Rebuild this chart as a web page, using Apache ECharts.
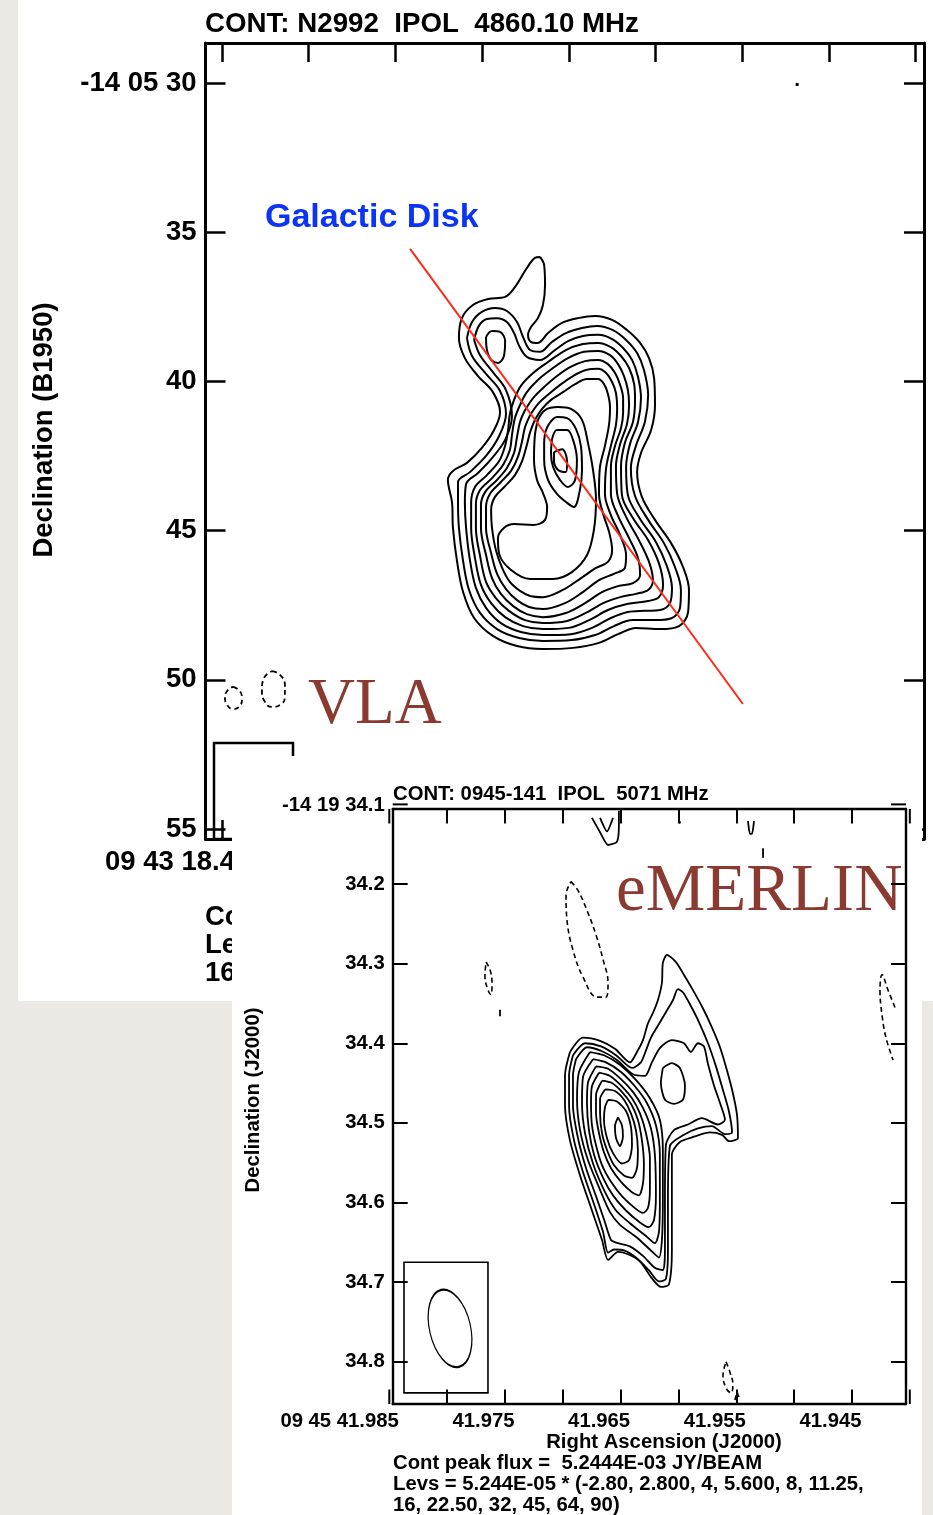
<!DOCTYPE html>
<html>
<head>
<meta charset="utf-8">
<title>N2992 VLA / eMERLIN contour maps</title>
<script src="https://cdn.jsdelivr.net/npm/echarts@6/dist/echarts.min.js"></script>
<style>
  html, body { margin:0; padding:0; }
  body { width:933px; height:1515px; background:#ece9e4; position:relative; overflow:hidden; }
  #vla { position:absolute; left:18px; top:0; width:915px; height:1001px; background:#fff; }
  #em  { position:absolute; left:232px; top:756px; width:690px; height:759px; background:#fff; }
</style>
</head>
<body>
<div id="vla"></div>
<div id="em"></div>
<script>
// ================= VLA map: CONT N2992 IPOL 4860.10 MHz =================
// x = RA offset west of 09 43 18.4 (arcsec), y = Dec arcsec of -14 05 (B1950)
const vlaRaTicks   = [18.4, 18.2, 18.0, 17.8, 17.6, 17.4, 17.2, 17.0, 16.8];
const vlaRaLabel   = '09 43 18.4';
const vlaDecTicks  = [30, 35, 40, 45, 50, 55];
const vlaDecLabels = ['-14 05 30', '35', '40', '45', '50', '55'];

const vlaCont01 = [[10.67,35.83],[10.81,36.10],[10.84,36.77],[10.77,37.44],[10.60,37.88],[10.37,38.18],[10.27,38.44],[10.37,38.68],[10.60,38.71],[10.94,38.38],[11.41,38.04],[11.95,37.88],[12.52,37.81],[13.09,37.94],[13.59,38.28],[14.03,38.71],[14.33,39.22],[14.50,39.89],[14.53,40.79],[14.40,41.63],[14.06,42.40],[13.93,43.04],[14.09,43.87],[14.53,44.64],[15.07,45.42],[15.47,46.22],[15.67,46.99],[15.64,47.73],[15.34,48.20],[14.70,48.30],[13.89,48.26],[13.29,48.47],[12.62,48.77],[11.78,48.93],[10.77,48.97],[9.90,48.87],[9.09,48.53],[8.46,47.93],[8.09,47.06],[7.89,46.05],[7.75,44.91],[7.72,44.07],[7.58,43.30],[7.75,43.00],[8.22,42.73],[8.72,42.23],[9.13,41.63],[9.33,41.03],[9.09,40.36],[8.59,39.82],[8.15,39.22],[7.95,38.55],[8.05,37.88],[8.42,37.44],[8.93,37.24],[9.50,37.17],[9.83,36.84],[10.23,36.20],[10.50,35.86]];
const vlaCont02 = [[8.22,38.55],[8.39,38.01],[8.72,37.67],[9.16,37.54],[9.56,37.64],[9.90,38.01],[10.10,38.51],[10.34,38.95],[10.67,39.01],[11.07,38.68],[11.54,38.38],[12.08,38.21],[12.58,38.14],[13.12,38.28],[13.56,38.61],[13.93,39.05],[14.16,39.62],[14.30,40.46],[14.19,41.36],[13.89,42.16],[13.72,42.90],[13.86,43.84],[14.30,44.64],[14.83,45.42],[15.20,46.22],[15.40,46.99],[15.37,47.59],[15.10,47.93],[14.53,48.00],[13.79,48.00],[13.15,48.20],[12.52,48.50],[11.74,48.67],[10.77,48.70],[9.97,48.60],[9.23,48.30],[8.66,47.76],[8.29,46.99],[8.09,46.02],[7.95,44.91],[7.92,44.07],[7.92,43.37],[8.32,43.04],[8.86,42.50],[9.30,41.83],[9.53,41.09],[9.33,40.32],[8.86,39.75],[8.39,39.15]];
const vlaCont03 = [[8.46,38.61],[8.62,38.14],[8.89,37.91],[9.23,37.88],[9.56,38.01],[9.80,38.38],[9.97,38.81],[10.23,39.18],[10.67,39.28],[11.17,38.95],[11.61,38.65],[12.11,38.48],[12.62,38.44],[13.09,38.58],[13.46,38.88],[13.76,39.28],[13.96,39.85],[14.06,40.56],[13.96,41.36],[13.69,42.10],[13.56,42.87],[13.62,43.81],[14.03,44.61],[14.56,45.38],[14.93,46.19],[15.10,46.92],[15.03,47.43],[14.70,47.66],[14.19,47.69],[13.62,47.73],[13.05,47.93],[12.42,48.26],[11.71,48.47],[10.77,48.50],[10.03,48.40],[9.36,48.10],[8.86,47.59],[8.52,46.92],[8.32,45.99],[8.19,44.91],[8.15,44.07],[8.19,43.44],[8.59,43.07],[9.06,42.57],[9.50,41.96],[9.73,41.16],[9.53,40.29],[9.09,39.69],[8.66,39.12]];
const vlaCont04 = [[9.80,40.62],[10.03,40.15],[10.44,39.72],[10.94,39.35],[11.54,38.95],[12.11,38.75],[12.62,38.71],[13.05,38.85],[13.39,39.15],[13.66,39.55],[13.83,40.09],[13.86,40.62],[13.79,41.36],[13.52,42.06],[13.39,42.84],[13.42,43.81],[13.79,44.58],[14.30,45.32],[14.66,46.09],[14.80,46.82],[14.66,47.23],[14.30,47.36],[13.59,47.46],[12.95,47.66],[12.32,48.00],[11.64,48.26],[10.77,48.30],[10.10,48.20],[9.50,47.90],[9.03,47.43],[8.69,46.82],[8.49,45.92],[8.36,44.91],[8.36,44.07],[8.49,43.54],[8.89,43.14],[9.30,42.67],[9.50,42.16],[9.60,41.63],[9.66,41.09]];
const vlaCont05 = [[10.00,40.79],[10.23,40.36],[10.60,39.95],[11.07,39.58],[11.61,39.22],[12.15,39.01],[12.62,38.98],[13.02,39.12],[13.29,39.42],[13.49,39.82],[13.62,40.29],[13.66,40.79],[13.59,41.43],[13.36,42.10],[13.22,42.84],[13.26,43.77],[13.56,44.54],[13.99,45.32],[14.33,46.05],[14.46,46.66],[14.30,46.99],[13.89,47.12],[13.36,47.23],[12.79,47.43],[12.21,47.76],[11.58,48.03],[10.77,48.10],[10.17,48.00],[9.63,47.69],[9.19,47.26],[8.86,46.72],[8.66,45.85],[8.52,44.91],[8.52,44.11],[8.66,43.64],[9.06,43.24],[9.43,42.80],[9.66,42.30],[9.73,41.80],[9.83,41.23]];
const vlaCont06 = [[10.17,40.96],[10.44,40.56],[10.81,40.19],[11.24,39.82],[11.68,39.52],[12.18,39.32],[12.62,39.28],[12.95,39.42],[13.19,39.72],[13.36,40.12],[13.46,40.56],[13.46,41.03],[13.39,41.56],[13.19,42.16],[13.05,42.87],[13.05,43.77],[13.29,44.51],[13.66,45.25],[13.96,45.92],[14.03,46.49],[13.79,46.76],[13.29,46.86],[12.75,47.06],[12.18,47.43],[11.54,47.76],[10.77,47.90],[10.23,47.80],[9.77,47.53],[9.36,47.12],[9.06,46.59],[8.86,45.82],[8.69,44.91],[8.69,44.14],[8.83,43.71],[9.23,43.30],[9.56,42.90],[9.80,42.40],[9.90,41.86],[10.00,41.36]];
const vlaCont07 = [[10.34,41.13],[10.60,40.76],[10.97,40.42],[11.38,40.09],[11.78,39.82],[12.21,39.62],[12.62,39.58],[12.89,39.72],[13.09,40.02],[13.22,40.39],[13.26,40.89],[13.22,41.46],[13.05,42.16],[12.89,42.90],[12.85,43.77],[13.05,44.48],[13.36,45.15],[13.56,45.82],[13.52,46.25],[13.15,46.45],[12.65,46.66],[12.11,47.06],[11.51,47.43],[10.77,47.63],[10.30,47.56],[9.90,47.33],[9.53,46.96],[9.23,46.45],[9.03,45.75],[8.86,44.91],[8.86,44.21],[8.99,43.77],[9.36,43.37],[9.70,43.00],[9.93,42.53],[10.07,42.00],[10.17,41.53]];
const vlaCont08 = [[10.50,41.29],[10.74,40.92],[11.04,40.62],[11.44,40.36],[11.85,40.09],[12.25,39.92],[12.62,39.92],[12.82,40.09],[12.95,40.42],[13.02,40.86],[12.99,41.43],[12.85,42.16],[12.68,42.90],[12.65,43.77],[12.79,44.44],[12.99,45.05],[13.09,45.65],[12.95,46.05],[12.55,46.25],[12.05,46.59],[11.44,46.99],[10.77,47.23],[10.34,47.19],[10.00,47.02],[9.66,46.72],[9.40,46.25],[9.19,45.65],[9.06,44.91],[9.03,44.31],[9.16,43.87],[9.50,43.51],[9.83,43.14],[10.07,42.67],[10.23,42.13],[10.34,41.70]];
const vlaCont09 = [[10.60,41.29],[10.84,40.96],[11.28,40.86],[11.71,40.92],[12.08,41.29],[12.28,42.06],[12.45,42.97],[12.55,43.97],[12.48,44.98],[12.25,45.82],[11.74,46.39],[11.11,46.62],[10.34,46.62],[9.70,46.32],[9.30,45.78],[9.26,45.25],[9.46,44.91],[9.80,44.78],[10.44,44.81],[10.84,44.64],[10.91,44.21],[10.77,43.74],[10.57,43.30],[10.47,42.63],[10.50,41.80]];
const vlaCont10 = [[10.84,41.73],[10.97,41.43],[11.24,41.19],[11.58,41.23],[11.88,41.60],[12.05,42.20],[12.08,42.97],[12.01,43.64],[11.81,44.21],[11.58,44.07],[11.24,43.77],[10.94,43.30],[10.81,42.63],[10.81,42.06]];
const vlaCont11 = [[11.07,41.96],[11.24,41.63],[11.58,41.63],[11.78,41.96],[11.91,42.63],[11.85,43.30],[11.61,43.54],[11.34,43.30],[11.11,42.87],[11.04,42.40]];
const vlaCont12 = [[11.14,42.37],[11.41,42.27],[11.58,42.70],[11.54,43.04],[11.28,42.97],[11.14,42.67]];
const vlaCont13 = [[8.86,38.51],[9.06,38.31],[9.33,38.34],[9.50,38.65],[9.46,39.15],[9.26,39.38],[9.03,39.28],[8.89,38.95]];
const vlaNeg1 = [[0.37,50.24],[0.60,50.38],[0.67,50.64],[0.57,50.91],[0.37,50.98],[0.17,50.84],[0.10,50.58],[0.20,50.34]];
const vlaNeg2 = [[1.68,49.71],[1.95,49.84],[2.11,50.17],[2.11,50.58],[1.95,50.84],[1.68,50.91],[1.44,50.74],[1.34,50.34],[1.41,49.94]];
const vlaSpot = [[19.30,30.00],[19.30,30.10]];
const galacticDisk = [[6.31,35.56],[17.48,50.81]];

// ================= eMERLIN map: CONT 0945-141 IPOL 5071 MHz =================
// x = RA offset from 09 45 41.985 in milliseconds of time, y = Dec seconds of -14 19 (J2000)
const emRaTicks     = [0, 5, 10, 15, 20, 25, 30, 35, 40, 45];
const emRaLabelVals = [0, 10, 20, 30, 40];
const emRaLabels    = ['09 45 41.985', '41.975', '41.965', '41.955', '41.945'];
const emDecTicks    = [34.1, 34.2, 34.3, 34.4, 34.5, 34.6, 34.7, 34.8];
const emDecLabels   = ['-14 19 34.1', '34.2', '34.3', '34.4', '34.5', '34.6', '34.7', '34.8'];
const emPeakFlux    = '5.2444E-03';
const emLevUnit     = '5.244E-05';
const emLevels      = ['-2.80', '2.800', '4', '5.600', '8', '11.25', '16', '22.50', '32', '45', '64', '90'];

const emCont01 = [[15.62,34.411],[16.75,34.393],[18.22,34.397],[19.51,34.407],[20.80,34.424],[21.41,34.411],[21.93,34.396],[22.36,34.375],[22.79,34.362],[23.22,34.346],[23.57,34.324],[23.65,34.299],[24.00,34.289],[24.78,34.298],[25.47,34.314],[26.24,34.333],[27.11,34.356],[27.89,34.380],[28.59,34.405],[29.19,34.434],[29.71,34.463],[30.06,34.490],[30.14,34.519],[29.37,34.523],[28.76,34.515],[27.72,34.512],[26.42,34.517],[25.12,34.524],[24.43,34.540],[24.43,34.597],[24.43,34.659],[24.17,34.703],[23.48,34.706],[22.70,34.695],[21.67,34.674],[20.63,34.665],[19.77,34.662],[18.91,34.672],[18.39,34.647],[17.52,34.610],[16.49,34.566],[15.62,34.522],[15.19,34.478],[15.19,34.440]];
const emCont02 = [[15.88,34.415],[16.92,34.400],[18.30,34.404],[19.60,34.415],[20.98,34.431],[21.75,34.424],[22.19,34.409],[22.62,34.393],[23.22,34.378],[23.91,34.361],[24.52,34.346],[24.95,34.332],[25.38,34.336],[25.99,34.351],[26.76,34.373],[27.55,34.400],[28.24,34.429],[28.85,34.459],[29.37,34.486],[29.63,34.512],[29.02,34.514],[27.89,34.504],[26.68,34.507],[25.47,34.515],[24.26,34.529],[24.09,34.597],[24.09,34.659],[23.91,34.696],[23.31,34.699],[22.44,34.685],[21.32,34.669],[20.29,34.660],[19.42,34.659],[18.91,34.663],[18.48,34.637],[17.70,34.602],[16.75,34.562],[15.97,34.522],[15.54,34.478],[15.54,34.440]];
const emCont03 = [[16.14,34.420],[17.09,34.405],[18.39,34.410],[19.68,34.421],[21.06,34.439],[22.10,34.441],[22.70,34.424],[23.39,34.406],[24.43,34.396],[25.47,34.400],[26.07,34.411],[26.68,34.400],[27.20,34.404],[27.55,34.426],[28.07,34.453],[28.59,34.475],[29.02,34.496],[28.41,34.502],[27.02,34.494],[25.81,34.502],[24.61,34.509],[23.91,34.528],[23.83,34.597],[23.83,34.659],[23.65,34.685],[22.96,34.682],[21.93,34.667],[20.80,34.655],[19.77,34.651],[19.17,34.647],[18.65,34.625],[17.87,34.592],[17.01,34.557],[16.31,34.519],[15.88,34.478],[15.88,34.440]];
const emCont04 = [[23.65,34.431],[24.43,34.425],[25.12,34.431],[25.56,34.453],[25.38,34.471],[24.61,34.476],[23.83,34.471],[23.48,34.450]];
const emCont05 = [[17.35,34.411],[18.56,34.415],[19.94,34.427],[21.32,34.446],[22.53,34.469],[23.39,34.496],[23.65,34.534],[23.65,34.597],[23.57,34.647],[23.31,34.669],[22.53,34.659],[21.32,34.643],[19.94,34.628],[19.08,34.612],[18.22,34.584],[17.18,34.547],[16.49,34.509],[16.23,34.471],[16.40,34.436]];
const emCont06 = [[17.61,34.420],[18.73,34.424],[20.03,34.436],[21.23,34.454],[22.27,34.475],[23.05,34.503],[23.39,34.540],[23.39,34.597],[23.31,34.637],[22.96,34.651],[22.19,34.642],[20.80,34.626],[19.60,34.610],[18.65,34.587],[17.61,34.551],[16.92,34.513],[16.66,34.475],[16.75,34.442]];
const emCont07 = [[17.87,34.429],[18.91,34.432],[20.03,34.445],[21.06,34.461],[21.93,34.481],[22.62,34.507],[22.96,34.540],[23.05,34.591],[22.88,34.622],[22.44,34.631],[21.67,34.625],[20.46,34.610],[19.34,34.591],[18.48,34.569],[17.70,34.540],[17.26,34.509],[17.09,34.475],[17.18,34.449]];
const emCont08 = [[18.13,34.437],[19.08,34.441],[20.11,34.454],[20.98,34.469],[21.67,34.488],[22.19,34.513],[22.53,34.544],[22.53,34.584],[22.36,34.607],[21.93,34.613],[21.23,34.607],[20.11,34.592],[19.17,34.574],[18.39,34.553],[17.87,34.528],[17.52,34.503],[17.44,34.474],[17.52,34.454]];
const emCont09 = [[18.39,34.447],[19.25,34.450],[20.11,34.461],[20.89,34.476],[21.49,34.496],[21.84,34.522],[22.01,34.551],[21.93,34.576],[21.59,34.591],[20.98,34.587],[20.03,34.574],[19.17,34.557],[18.56,34.537],[18.13,34.513],[17.87,34.488],[17.87,34.465]];
const emCont10 = [[18.65,34.458],[19.51,34.460],[20.29,34.471],[20.89,34.488],[21.32,34.509],[21.49,34.534],[21.41,34.557],[20.98,34.569],[20.29,34.566],[19.42,34.553],[18.82,34.534],[18.39,34.513],[18.22,34.488],[18.22,34.470]];
const emCont11 = [[18.91,34.471],[19.68,34.473],[20.46,34.485],[20.89,34.505],[20.98,34.528],[20.72,34.547],[20.11,34.551],[19.34,34.538],[18.82,34.519],[18.56,34.496],[18.65,34.480]];
const emCont12 = [[19.77,34.493],[20.11,34.503],[20.20,34.517],[19.94,34.529],[19.60,34.519],[19.51,34.504]];
const emNeg1 = [[15.71,34.197],[16.31,34.208],[17.09,34.233],[17.87,34.264],[18.48,34.295],[18.91,34.324],[18.73,34.342],[17.96,34.342],[16.75,34.317],[15.88,34.283],[15.36,34.245],[15.28,34.214]];
const emNeg2 = [[8.36,34.298],[8.71,34.308],[8.88,34.323],[8.79,34.339],[8.53,34.333],[8.27,34.316]];
const emNeg3 = [[43.72,34.355],[43.11,34.333],[42.60,34.314],[42.42,34.333],[42.60,34.365],[42.94,34.393],[43.55,34.421]];
const emNeg4 = [[29.11,34.800],[29.45,34.813],[29.71,34.829],[29.54,34.839],[29.11,34.833],[28.85,34.817]];
const emNeg5 = [[29.88,34.848],[30.06,34.838],[30.32,34.848]];
const emFrag1 = [[17.52,34.117],[18.22,34.135],[18.91,34.151],[19.68,34.147],[19.85,34.126],[19.85,34.108]];
const emFrag2 = [[18.22,34.117],[18.82,34.134],[19.34,34.117]];
const emFrag3 = [[31.01,34.121],[31.18,34.137],[31.36,34.137],[31.53,34.121]];
const emFrag4 = [[32.31,34.155],[32.31,34.167]];
const emFrag5 = [[9.57,34.358],[9.57,34.366]];
const emFrag6 = [[25.12,34.121],[25.12,34.124]];
const emBeamCenter = [5.25, 34.758];
const emBeamBox = [[1.27, 34.675], [8.53, 34.839]];

// ================= rendering =================
const SANS = '"Liberation Sans", Arial, Helvetica, sans-serif';
const SERIF = '"Liberation Serif", "Times New Roman", serif';
const LABEL_RED = '#8b3a32';

function loop(a) { return a.concat([a[0]]); }
function solid(data, w, smooth) {
  return { type: 'line', data: data, symbol: 'none', showSymbol: false, smooth: smooth,
           lineStyle: { color: '#000', width: w }, silent: true, animation: false, z: 3 };
}
function dashed(data, w, smooth) {
  const s = solid(data, w, smooth);
  s.lineStyle.type = [5, 3.5];
  return s;
}
function frameAxis(pos, min, max, ticks, lw, tlen, tw, extra) {
  const isX = (pos === 'top' || pos === 'bottom');
  const a = {
    type: 'value', position: pos, min: min, max: max,
    axisLine: { show: true, onZero: false, lineStyle: { color: '#000', width: lw } },
    axisTick: { show: true, inside: true, length: tlen, lineStyle: { color: '#000', width: tw }, customValues: ticks },
    axisLabel: { show: false },
    splitLine: { show: false }
  };
  if (!isX) a.inverse = true;
  return Object.assign(a, extra || {});
}

// ---------- VLA chart ----------
const DEC0 = -(14 + 5 / 60 + 40 / 3600) * Math.PI / 180;
const vlaRaTickPos = vlaRaTicks.map(s => +((vlaRaTicks[0] - s) * 15 * Math.cos(DEC0)).toFixed(3));
const VLA_X = [-0.554, 23.557];
const VLA_Y = [28.66, 55.335];

const vla = echarts.init(document.getElementById('vla'));
const vlaLabelAxis = {
  axisLabel: {
    show: true, customValues: vlaDecTicks, margin: 9,
    formatter: v => vlaDecLabels[vlaDecTicks.findIndex(t => Math.abs(t - v) < 1e-6)],
    color: '#000', fontSize: 27.5, fontWeight: 'bold', fontFamily: SANS
  }
};
const vlaSeries = [vlaCont01, vlaCont02, vlaCont03, vlaCont04, vlaCont05, vlaCont06, vlaCont07,
                   vlaCont08, vlaCont09, vlaCont10, vlaCont11, vlaCont12, vlaCont13]
  .map(c => solid(loop(c), 2, 0.35));
vlaSeries.push(dashed(loop(vlaNeg1), 1.8, 0.5));
vlaSeries.push(dashed(loop(vlaNeg2), 1.8, 0.5));
vlaSeries.push(solid(vlaSpot, 3, 0));
vlaSeries.push({ type: 'line', data: galacticDisk, symbol: 'none', showSymbol: false,
                 lineStyle: { color: '#ff2a1a', width: 2 }, silent: true, animation: false, z: 5 });

vla.setOption({
  animation: false,
  grid: { left: 187.5, top: 43, width: 718.5, height: 796, containLabel: false, outerBoundsMode: 'none' },
  xAxis: [
    frameAxis('bottom', VLA_X[0], VLA_X[1], vlaRaTickPos, 3, 19, 2.5),
    frameAxis('top', VLA_X[0], VLA_X[1], vlaRaTickPos, 3, 19, 2.5)
  ],
  yAxis: [
    frameAxis('left', VLA_Y[0], VLA_Y[1], vlaDecTicks, 3, 20, 2.5, vlaLabelAxis),
    frameAxis('right', VLA_Y[0], VLA_Y[1], vlaDecTicks, 3, 20, 2.5)
  ],
  series: vlaSeries
});

const vlaTick0 = vla.convertToPixel({ gridIndex: 0 }, [vlaRaTickPos[0], VLA_Y[1]]);
vla.setOption({
  graphic: { elements: [
    { type: 'text', x: 187, y: 24, style: { text: 'CONT: N2992  IPOL  4860.10 MHz', font: 'bold 27.7px ' + SANS, fill: '#000', align: 'left', verticalAlign: 'middle' } },
    { type: 'text', x: 26, y: 430, rotation: Math.PI / 2, style: { text: 'Declination (B1950)', font: 'bold 27.5px ' + SANS, fill: '#000', align: 'center', verticalAlign: 'middle' } },
    { type: 'text', x: 247, y: 218, style: { text: 'Galactic Disk', font: 'bold 34px ' + SANS, fill: '#0b34f5', align: 'left', verticalAlign: 'middle' } },
    { type: 'text', x: 290, y: 706, style: { text: 'VLA', font: '65px ' + SERIF, fill: LABEL_RED, align: 'left', verticalAlign: 'middle' } },
    { type: 'rect', shape: { x: 196, y: 743, width: 79, height: 96 }, style: { fill: 'none', stroke: '#000', lineWidth: 2.5 } },
    { type: 'text', x: vlaTick0[0] + 13, y: 862, style: { text: vlaRaLabel, font: 'bold 27.5px ' + SANS, fill: '#000', align: 'right', verticalAlign: 'middle' } },
    { type: 'text', x: 187, y: 917, style: { text: 'Cont peak flux =', font: 'bold 27.5px ' + SANS, fill: '#000', align: 'left', verticalAlign: 'middle' } },
    { type: 'text', x: 187, y: 945, style: { text: 'Levs =', font: 'bold 27.5px ' + SANS, fill: '#000', align: 'left', verticalAlign: 'middle' } },
    { type: 'text', x: 187, y: 973, style: { text: '16,', font: 'bold 27.5px ' + SANS, fill: '#000', align: 'left', verticalAlign: 'middle' } }
  ] }
});

// ---------- eMERLIN chart ----------
const EM_X = [0.294, 44.67];
const EM_Y = [34.1058, 34.853];
const emInX = emRaTicks.filter(v => v >= EM_X[0] && v <= EM_X[1]);
const emInY = emDecTicks.filter(v => v >= EM_Y[0] && v <= EM_Y[1]);

const em = echarts.init(document.getElementById('em'));
const emLabelAxis = {
  axisLabel: {
    show: true, customValues: emInY, margin: 8,
    formatter: v => emDecLabels[emDecTicks.findIndex(t => Math.abs(t - v) < 1e-6)],
    color: '#000', fontSize: 20.3, fontWeight: 'bold', fontFamily: SANS
  }
};
const emSeries = [emCont01, emCont02, emCont03, emCont04, emCont05, emCont06, emCont07, emCont08,
                  emCont09, emCont10, emCont11, emCont12].map(c => solid(loop(c), 1.8, 0.25));
emSeries.push(dashed(loop(emNeg1), 1.6, 0.4));
emSeries.push(dashed(loop(emNeg2), 1.6, 0.4));
emSeries.push(dashed(emNeg3, 1.6, 0.4));
emSeries.push(dashed(loop(emNeg4), 1.6, 0.4));
emSeries.push(dashed(emNeg5, 1.6, 0));
[emFrag1, emFrag2, emFrag3, emFrag4, emFrag5, emFrag6].forEach(f => emSeries.push(solid(f, 1.8, 0.2)));

em.setOption({
  animation: false,
  grid: { left: 160.7, top: 53, width: 513.3, height: 595, containLabel: false, outerBoundsMode: 'none' },
  xAxis: [
    frameAxis('bottom', EM_X[0], EM_X[1], emInX, 2.4, 14.5, 2),
    frameAxis('top', EM_X[0], EM_X[1], emInX, 2.4, 14.5, 2)
  ],
  yAxis: [
    frameAxis('left', EM_Y[0], EM_Y[1], emInY, 2.4, 15, 2, emLabelAxis),
    frameAxis('right', EM_Y[0], EM_Y[1], emInY, 2.4, 15, 2)
  ],
  series: emSeries
});

const P = (x, y) => em.convertToPixel({ gridIndex: 0 }, [x, y]);
const emTop = P(EM_X[0], EM_Y[0])[1], emBot = P(EM_X[0], EM_Y[1])[1];
const emLeft = P(EM_X[0], EM_Y[0])[0], emRight = P(EM_X[1], EM_Y[0])[0];
const emG = [];
// ticks that fall just outside the plotted frame
emRaTicks.filter(v => v < EM_X[0] || v > EM_X[1]).forEach(v => {
  const x = P(v, EM_Y[0])[0];
  emG.push({ type: 'line', shape: { x1: x, y1: emTop, x2: x, y2: emTop + 14.5 }, style: { stroke: '#000', lineWidth: 2 } });
  emG.push({ type: 'line', shape: { x1: x, y1: emBot, x2: x, y2: emBot - 14.5 }, style: { stroke: '#000', lineWidth: 2 } });
});
emDecTicks.filter(v => v < EM_Y[0] || v > EM_Y[1]).forEach(v => {
  const y = P(EM_X[0], v)[1];
  emG.push({ type: 'line', shape: { x1: emLeft, y1: y, x2: emLeft + 15, y2: y }, style: { stroke: '#000', lineWidth: 2 } });
  emG.push({ type: 'line', shape: { x1: emRight, y1: y, x2: emRight - 15, y2: y }, style: { stroke: '#000', lineWidth: 2 } });
  emG.push({ type: 'text', x: emLeft - 8, y: y + 1, style: { text: emDecLabels[emDecTicks.indexOf(v)], font: 'bold 20.3px ' + SANS, fill: '#000', align: 'right', verticalAlign: 'middle' } });
});
// RA tick labels (right-aligned just past their tick, AIPS style)
emRaLabelVals.forEach((v, i) => {
  const x = P(v, EM_Y[1])[0];
  emG.push({ type: 'text', x: x + 9.5, y: emBot + 17.5, style: { text: emRaLabels[i], font: 'bold 20.3px ' + SANS, fill: '#000', align: 'right', verticalAlign: 'middle' } });
});
// beam
const bb0 = P(emBeamBox[0][0], emBeamBox[0][1]), bb1 = P(emBeamBox[1][0], emBeamBox[1][1]);
emG.push({ type: 'rect', shape: { x: bb0[0], y: bb0[1], width: bb1[0] - bb0[0], height: bb1[1] - bb0[1] }, style: { fill: 'none', stroke: '#000', lineWidth: 1.6 } });
const bc = P(emBeamCenter[0], emBeamCenter[1]);
emG.push({ type: 'circle', x: bc[0], y: bc[1], rotation: 0.227, scaleX: 20.5 / 39.5, scaleY: 1,
           shape: { cx: 0, cy: 0, r: 39.5 }, style: { fill: 'none', stroke: '#000', lineWidth: 1.6, strokeNoScale: true } });
// texts
emG.push({ type: 'text', x: 161, y: 38, style: { text: 'CONT: 0945-141  IPOL  5071 MHz', font: 'bold 20.3px ' + SANS, fill: '#000', align: 'left', verticalAlign: 'middle' } });
emG.push({ type: 'text', x: 21, y: 344, rotation: Math.PI / 2, style: { text: 'Declination (J2000)', font: 'bold 20.3px ' + SANS, fill: '#000', align: 'center', verticalAlign: 'middle' } });
emG.push({ type: 'text', x: 384, y: 136, style: { text: 'eMERLIN', font: '67px ' + SERIF, fill: LABEL_RED, align: 'left', verticalAlign: 'middle' } });
emG.push({ type: 'text', x: 432, y: 686, style: { text: 'Right Ascension (J2000)', font: 'bold 20.3px ' + SANS, fill: '#000', align: 'center', verticalAlign: 'middle' } });
emG.push({ type: 'text', x: 161, y: 707, style: { text: 'Cont peak flux =  ' + emPeakFlux + ' JY/BEAM', font: 'bold 20.3px ' + SANS, fill: '#000', align: 'left', verticalAlign: 'middle' } });
emG.push({ type: 'text', x: 161, y: 728, style: { text: 'Levs = ' + emLevUnit + ' * (' + emLevels.slice(0, 6).join(', ') + ',', font: 'bold 20.3px ' + SANS, fill: '#000', align: 'left', verticalAlign: 'middle' } });
emG.push({ type: 'text', x: 161, y: 749, style: { text: emLevels.slice(6).join(', ') + ')', font: 'bold 20.3px ' + SANS, fill: '#000', align: 'left', verticalAlign: 'middle' } });
em.setOption({ graphic: { elements: emG } });
</script>
</body>
</html>
